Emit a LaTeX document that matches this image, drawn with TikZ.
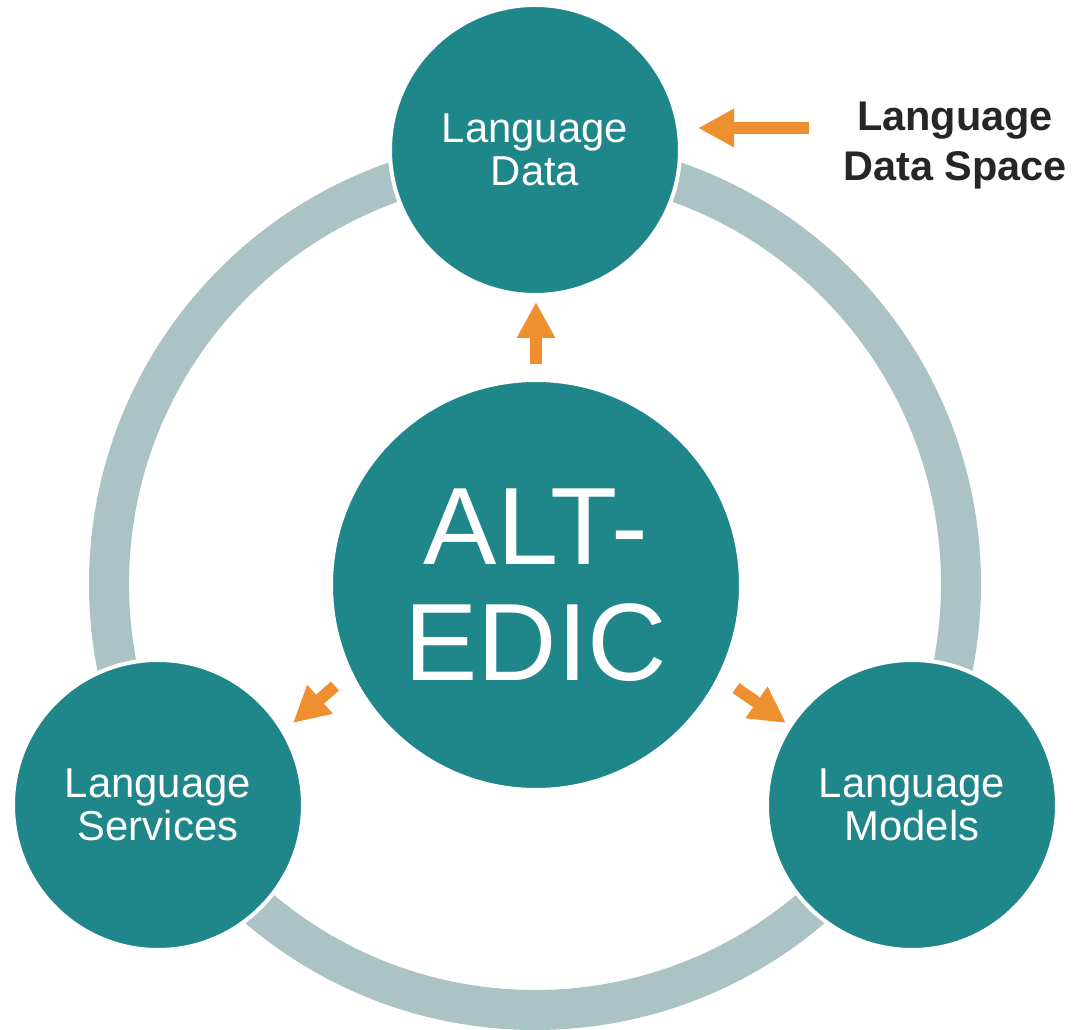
\documentclass[tikz,border=0pt]{standalone}
\usepackage{fontspec}
\setmainfont{Liberation Sans}
\usetikzlibrary{arrows.meta}
\definecolor{EdicTeal}{HTML}{1F868A}
\definecolor{EdicRing}{HTML}{ABC3C5}
\definecolor{EdicOrange}{HTML}{EE8F30}
\definecolor{EdicText}{HTML}{262626}

\begin{document}
\begin{tikzpicture}[x=0.2mm, y=0.2mm,
    hub/.style={circle, fill=EdicTeal, draw=white, line width=0.8mm, text=white, align=center, inner sep=0pt},
    pointer/.style={EdicOrange, line width=2.4mm, -{Triangle[length=7.2mm, width=7.2mm]}}]
    \useasboundingbox (0,0) rectangle (1076,1030);

    % Ring
    \draw[EdicRing, line width=8mm] (535,446) circle (426);

    % Circles
    \node[hub, minimum size=82mm, font=\fontsize{62.6}{66}\selectfont] (edic) at (536,445) {ALT-\\EDIC};
    \node[hub, minimum size=58mm, font=\fontsize{23.8}{24.6}\selectfont] (data) at (535,880) {Language\\Data};
    \node[hub, minimum size=58mm, font=\fontsize{23.8}{24.6}\selectfont] (services) at (158,225) {Language\\Services};
    \node[hub, minimum size=58mm, font=\fontsize{23.8}{24.6}\selectfont] (models) at (912,225) {Language\\Models};

    % Label
    \node[font=\bfseries\fontsize{23.6}{28.5}\selectfont, text=EdicText, align=center, inner sep=0pt] (space) at (955,884) {Language\\Data Space};

    % Arrows
    \coordinate (spaceTail) at (809,902);
    \coordinate (spaceTip) at (698,902);
    \coordinate (dataTail) at (536,666);
    \coordinate (dataTip) at (536,728);
    \coordinate (servicesTail) at (335,344);
    \coordinate (servicesTip) at (293,307);
    \coordinate (modelsTail) at (736,342);
    \coordinate (modelsTip) at (786,307);
    \draw[pointer] (spaceTail) -- (spaceTip);
    \draw[pointer] (dataTail) -- (dataTip);
    \draw[pointer] (servicesTail) -- (servicesTip);
    \draw[pointer] (modelsTail) -- (modelsTip);
\end{tikzpicture}
\end{document}
